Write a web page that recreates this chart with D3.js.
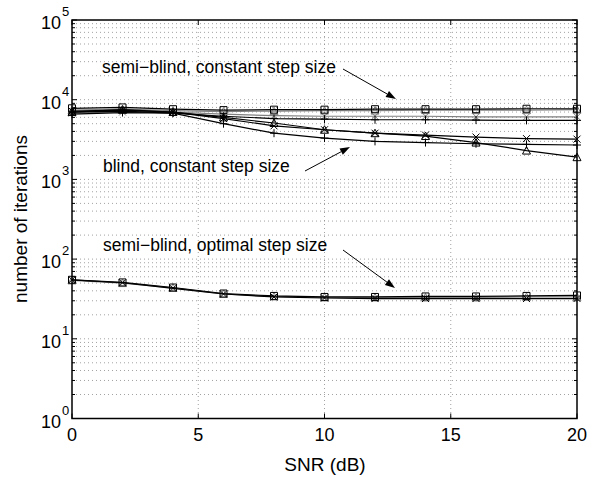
<!DOCTYPE html>
<html>
<head>
<meta charset="utf-8">
<script src="https://cdn.jsdelivr.net/npm/d3@7"></script>
<style>
  body { margin: 0; background: #fff; }
  text { font-family: "Liberation Sans", Arial, sans-serif; fill: #000; }
</style>
</head>
<body>
<svg id="chart" width="601" height="477"></svg>
<script>
// SNR points (dB)
const snr = [0, 2, 4, 6, 8, 10, 12, 14, 16, 18, 20];

// semi-blind, constant step size
const semiConstSquare = [7800, 8000, 7600, 7400, 7500, 7500, 7600, 7600, 7600, 7700, 7700];
const semiConstTri    = [7400, 7600, 7300, 7100, 7200, 7300, 7300, 7400, 7400, 7400, 7500];
const semiConstCross  = [6800, 7000, 7000, 6600, 6300, 6200, 6200, 6200, 6100, 6100, 6100];
const semiConstPlus   = [6600, 6900, 6800, 6200, 5800, 5700, 5600, 5600, 5550, 5500, 5500];

// blind, constant step size
const blindPlus  = [7000, 7200, 6800, 5000, 3800, 3300, 3000, 2900, 2800, 2750, 2700];
const blindCross = [7200, 7400, 7000, 5800, 4700, 4200, 3800, 3600, 3400, 3250, 3200];
const blindTri   = [7000, 7500, 7000, 6000, 5100, 4200, 3800, 3500, 2900, 2300, 1900];

// semi-blind, optimal step size
const optSquare = [55, 51, 44, 37, 34.5, 33.5, 33.5, 34, 34, 34.5, 35];
const optTri    = [54, 50, 43.5, 36.5, 34, 33, 33, 33, 33, 33.5, 33.5];
const optCross  = [55, 50.5, 43, 36.5, 33.5, 32.5, 32, 32, 32, 32, 32];

const xTicks = [0, 5, 10, 15, 20];
const yExps = [0, 1, 2, 3, 4, 5];

const series = [
  { values: semiConstTri, marker: 'tri', color: '#808080' },
  { values: semiConstCross, marker: 'x', color: '#808080' },
  { values: blindPlus, marker: 'plus', color: '#000' },
  { values: blindCross, marker: 'x', color: '#000' },
  { values: blindTri, marker: 'tri', color: '#000' },
  { values: semiConstPlus, marker: 'plus', color: '#000' },
  { values: semiConstSquare, marker: 'square', color: '#000' },
  { values: optTri, marker: 'tri', color: '#808080' },
  { values: optCross, marker: 'x', color: '#000' },
  { values: optSquare, marker: 'square', color: '#000' }
];

const pLeft = 72, pRight = 577, pTop = 20, pBottom = 418.5;
const svg = d3.select('#chart');

const x = d3.scaleLinear().domain([0, 20]).range([pLeft, pRight]);
const y = d3.scaleLog().domain([1, 1e5]).range([pBottom, pTop]);

// grid
const grid = svg.append('g')
  .attr('stroke', '#8a8a8a')
  .attr('stroke-width', 0.8)
  .attr('stroke-dasharray', '1,3');

xTicks.slice(1, -1).forEach(t => {
  grid.append('line').attr('x1', x(t)).attr('x2', x(t)).attr('y1', pTop).attr('y2', pBottom);
});

const minorVals = [];
yExps.slice(0, -1).forEach(e => {
  for (let m = 1; m <= 9; m++) minorVals.push(m * Math.pow(10, e));
});
minorVals.push(1e5);
minorVals.filter(v => v > 1 && v < 1e5).forEach(v => {
  grid.append('line').attr('x1', pLeft).attr('x2', pRight).attr('y1', y(v)).attr('y2', y(v));
});

// ticks (inward, both sides)
const ticks = svg.append('g').attr('stroke', '#000').attr('stroke-width', 1);
xTicks.forEach(t => {
  ticks.append('line').attr('x1', x(t)).attr('x2', x(t)).attr('y1', pBottom).attr('y2', pBottom - 5);
  ticks.append('line').attr('x1', x(t)).attr('x2', x(t)).attr('y1', pTop).attr('y2', pTop + 5);
});
minorVals.forEach(v => {
  const major = Math.abs(Math.log10(v) - Math.round(Math.log10(v))) < 1e-9;
  const len = major ? 5 : 3;
  ticks.append('line').attr('x1', pLeft).attr('x2', pLeft + len).attr('y1', y(v)).attr('y2', y(v));
  ticks.append('line').attr('x1', pRight).attr('x2', pRight - len).attr('y1', y(v)).attr('y2', y(v));
});

// lines
const line = d3.line().x((d, i) => x(snr[i])).y(d => y(d));

function markerPath(type, cx, cy) {
  const s = 3.5;
  if (type === 'square') {
    return `M${cx - s},${cy - s}h${2 * s}v${2 * s}h${-2 * s}Z`;
  } else if (type === 'tri') {
    return `M${cx},${cy - s - 0.5}L${cx + s + 0.5},${cy + s}L${cx - s - 0.5},${cy + s}Z`;
  } else if (type === 'x') {
    return `M${cx - s},${cy - s}L${cx + s},${cy + s}M${cx - s},${cy + s}L${cx + s},${cy - s}`;
  }
  return `M${cx - s - 0.5},${cy}h${2 * s + 1}M${cx},${cy - s - 0.5}v${2 * s + 1}`;
}

const plot = svg.append('g');
series.forEach(s => {
  plot.append('path')
    .attr('d', line(s.values))
    .attr('fill', 'none')
    .attr('stroke', s.color)
    .attr('stroke-width', 1.2);
  plot.selectAll(null)
    .data(s.values)
    .enter().append('path')
    .attr('d', (d, i) => markerPath(s.marker, x(snr[i]), y(d)))
    .attr('fill', 'none')
    .attr('stroke', s.color)
    .attr('stroke-width', 1);
});

// axes box
svg.append('rect')
  .attr('x', pLeft).attr('y', pTop)
  .attr('width', pRight - pLeft).attr('height', pBottom - pTop)
  .attr('fill', 'none').attr('stroke', '#000').attr('stroke-width', 1.5);

// tick labels
xTicks.forEach(t => {
  svg.append('text')
    .attr('x', x(t)).attr('y', 441)
    .attr('text-anchor', 'middle')
    .style('font-size', '18px')
    .text(t);
});
yExps.forEach(e => {
  svg.append('text')
    .attr('x', 61).attr('y', y(Math.pow(10, e)) + 9)
    .attr('text-anchor', 'end')
    .style('font-size', '18px')
    .text('10');
  svg.append('text')
    .attr('x', 62).attr('y', y(Math.pow(10, e)) - 4)
    .style('font-size', '13px')
    .text(e);
});

// axis labels
svg.append('text')
  .attr('x', 325).attr('y', 471)
  .attr('text-anchor', 'middle')
  .style('font-size', '19px')
  .text('SNR (dB)');
svg.append('text')
  .attr('transform', 'translate(27,219) rotate(-90)')
  .attr('text-anchor', 'middle')
  .style('font-size', '19px')
  .text('number of iterations');

// annotations
const notes = [
  { text: 'semi\u2212blind, constant step size', tx: 102, ty: 73, from: [343, 69], to: [396, 99] },
  { text: 'blind, constant step size', tx: 103, ty: 172, from: [305, 171], to: [350, 147] },
  { text: 'semi\u2212blind, optimal step size', tx: 103, ty: 251, from: [343, 250], to: [395, 288] }
];
notes.forEach(n => {
  svg.append('text')
    .attr('x', n.tx).attr('y', n.ty)
    .style('font-size', '17.5px')
    .text(n.text);
  const [x0, y0] = n.from, [x1, y1] = n.to;
  const ang = Math.atan2(y1 - y0, x1 - x0);
  const hl = 10, hw = 3.5;
  const bx = x1 - hl * Math.cos(ang), by = y1 - hl * Math.sin(ang);
  svg.append('line')
    .attr('x1', x0).attr('y1', y0).attr('x2', bx).attr('y2', by)
    .attr('stroke', '#000').attr('stroke-width', 1);
  const px = -Math.sin(ang) * hw, py = Math.cos(ang) * hw;
  svg.append('path')
    .attr('d', `M${x1},${y1}L${bx + px},${by + py}L${bx - px},${by - py}Z`)
    .attr('fill', '#000');
});
</script>
</body>
</html>
